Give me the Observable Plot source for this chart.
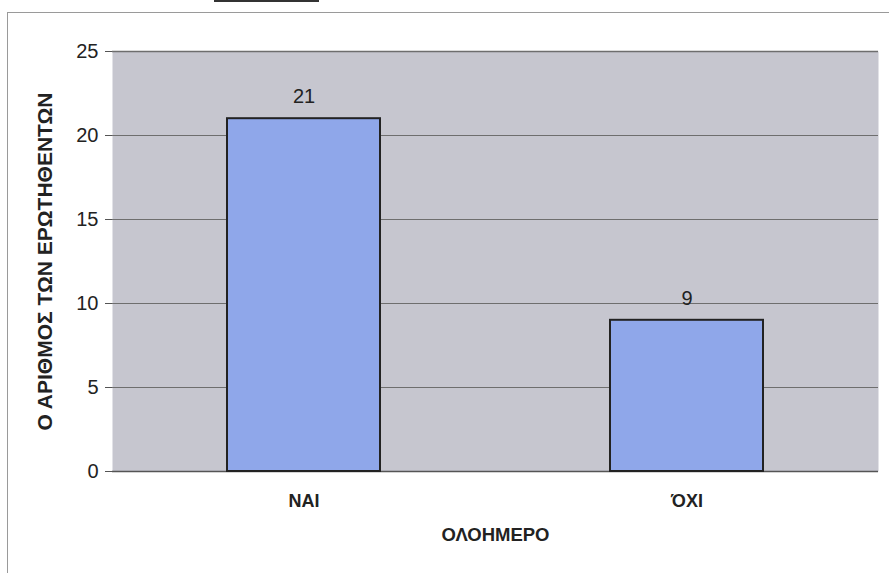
<!DOCTYPE html>
<html>
<head>
<meta charset="utf-8">
<script src="https://cdn.jsdelivr.net/npm/d3@7"></script>
<script src="https://cdn.jsdelivr.net/npm/@observablehq/plot@0.6"></script>
<style>
  html, body { margin: 0; padding: 0; background: #ffffff; overflow: hidden; }
  #wrap { position: relative; width: 889px; height: 573px; }
  #frame { position: absolute; left: 7px; top: 12px; width: 900px; height: 600px;
           border: 1.5px solid #9a9a9a; box-sizing: border-box; pointer-events: none; }
  #topline { position: absolute; left: 214px; top: 0px; width: 105px; height: 2px; background: #333; }
  svg { font-family: "Liberation Sans", Arial, sans-serif; }
</style>
</head>
<body>
<div id="wrap">
  <div id="topline"></div>
  <div id="frame"></div>
  <div id="chart"></div>
</div>
<script>
const categories = ["ΝΑΙ", "ΌΧΙ"];
const counts = [21, 9];
const yTicks = [0, 5, 10, 15, 20, 25];
const xTitle = "ΟΛΟΗΜΕΡΟ";
const yTitle = "Ο ΑΡΙΘΜΟΣ ΤΩΝ ΕΡΩΤΗΘΕΝΤΩΝ";

const data = categories.map((c, i) => ({category: c, count: counts[i]}));

const chart = Plot.plot({
  width: 889,
  height: 573,
  marginLeft: 112,
  marginRight: 11,
  marginTop: 51,
  marginBottom: 102,
  style: {background: "transparent", fontFamily: "'Liberation Sans', Arial, sans-serif"},
  x: {domain: categories, paddingInner: 0.6, paddingOuter: 0.3, label: null},
  y: {domain: [0, 25], label: null},
  marks: [
    Plot.frame({fill: "#c6c6cf", stroke: null}),
    Plot.gridY(yTicks, {stroke: "#6e6e6e", strokeOpacity: 1, strokeWidth: 1}),
    Plot.ruleY([25], {stroke: "#6e6e6e", strokeWidth: 1.5}),
    Plot.ruleY([0], {stroke: "#555", strokeWidth: 1.5}),
    Plot.barY(data, {x: "category", y: "count", fill: "#8fa7ea", stroke: "#222", strokeWidth: 2}),
    Plot.text(data, {x: "category", y: "count", text: d => String(d.count), dy: -22,
      fontSize: 20, fill: "#222"}),
    Plot.axisY({ticks: yTicks, tickSize: 7, tickPadding: 7, fontSize: 20, label: null, stroke: "#555", fill: "#222"}),
    Plot.axisX({tickSize: 0, tickPadding: 23, fontSize: 18, fontWeight: "bold", label: null, fill: "#222"}),
    Plot.text([xTitle], {frameAnchor: "bottom", dy: 69, fontSize: 18.5, fontWeight: "bold", fill: "#222"}),
    Plot.text([yTitle], {frameAnchor: "left", textAnchor: "middle", dx: -67, rotate: -90, fontSize: 21, fontWeight: "bold", fill: "#222"})
  ]
});
document.getElementById("chart").appendChild(chart);
</script>
</body>
</html>
